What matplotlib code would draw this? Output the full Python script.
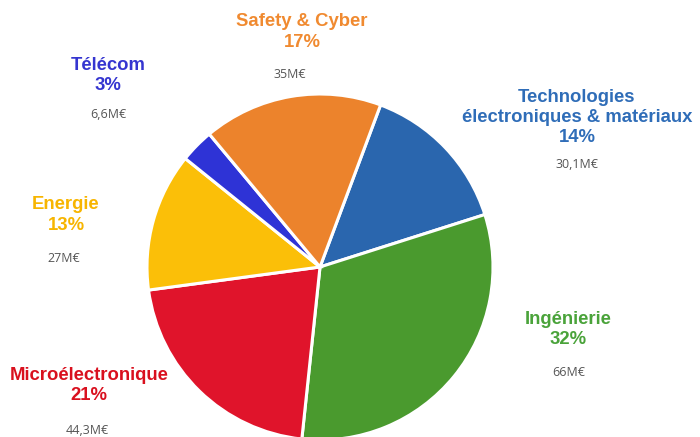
import matplotlib
matplotlib.use("Agg")
import matplotlib.pyplot as plt

labels = ["Technologies\nélectroniques & matériaux", "Ingénierie", "Microélectronique",
          "Energie", "Télécom", "Safety & Cyber"]
values = [30.1, 66, 44.3, 27, 6.6, 35]
value_labels = ["30,1M€", "66M€", "44,3M€", "27M€", "6,6M€", "35M€"]
slice_colors = ["#2A66AE", "#4A9A2E", "#E0142B", "#FBBF08", "#2E33D6", "#EC832C"]
text_colors = ["#2F6DB8", "#4AA33A", "#D9101E", "#F7B500", "#3535D0", "#F08A30"]

W, H = 700, 437
fig = plt.figure(figsize=(7.0, 4.37), dpi=100)
ax = fig.add_axes([0, 0, 1, 1])

R = 173.0
cx, cy = 320.0, 267.0
ax.pie(values, colors=slice_colors, startangle=69.5, counterclock=False,
       radius=1.0, wedgeprops=dict(edgecolor="white", linewidth=2.2))
ax.set_aspect("auto")
ax.set_xlim(-cx / R, (W - cx) / R)
ax.set_ylim(-(H - cy) / R, cy / R)
ax.axis("off")

total = sum(values)
# (x center, y of first title line, y of value line) in pixels from top-left
label_pos = [(577, 97, 165), (568, 319, 372), (89, 375, 430),
             (66, 205, 258), (108, 65, 115), (302, 22, 75)]
value_dx = [0, 1, -2, -2, 0, -12]

def px(x, y):
    return x / W, 1 - y / H

for lab, v, vl, tc, (x, y, yv), dx in zip(labels, values, value_labels, text_colors, label_pos, value_dx):
    lines = lab.split("\n") + [f"{round(v / total * 100)}%"]
    for i, line in enumerate(lines):
        fig.text(*px(x, y + 20.5 * i), line, ha="center", va="center", color=tc,
                 fontsize=13.3, fontweight="bold", family="Liberation Sans")
    fig.text(*px(x + dx, yv), vl, ha="center", va="center", color="#555555",
             fontsize=9, family="Open Sans")

fig.savefig("out.png", dpi=100, facecolor="white")
